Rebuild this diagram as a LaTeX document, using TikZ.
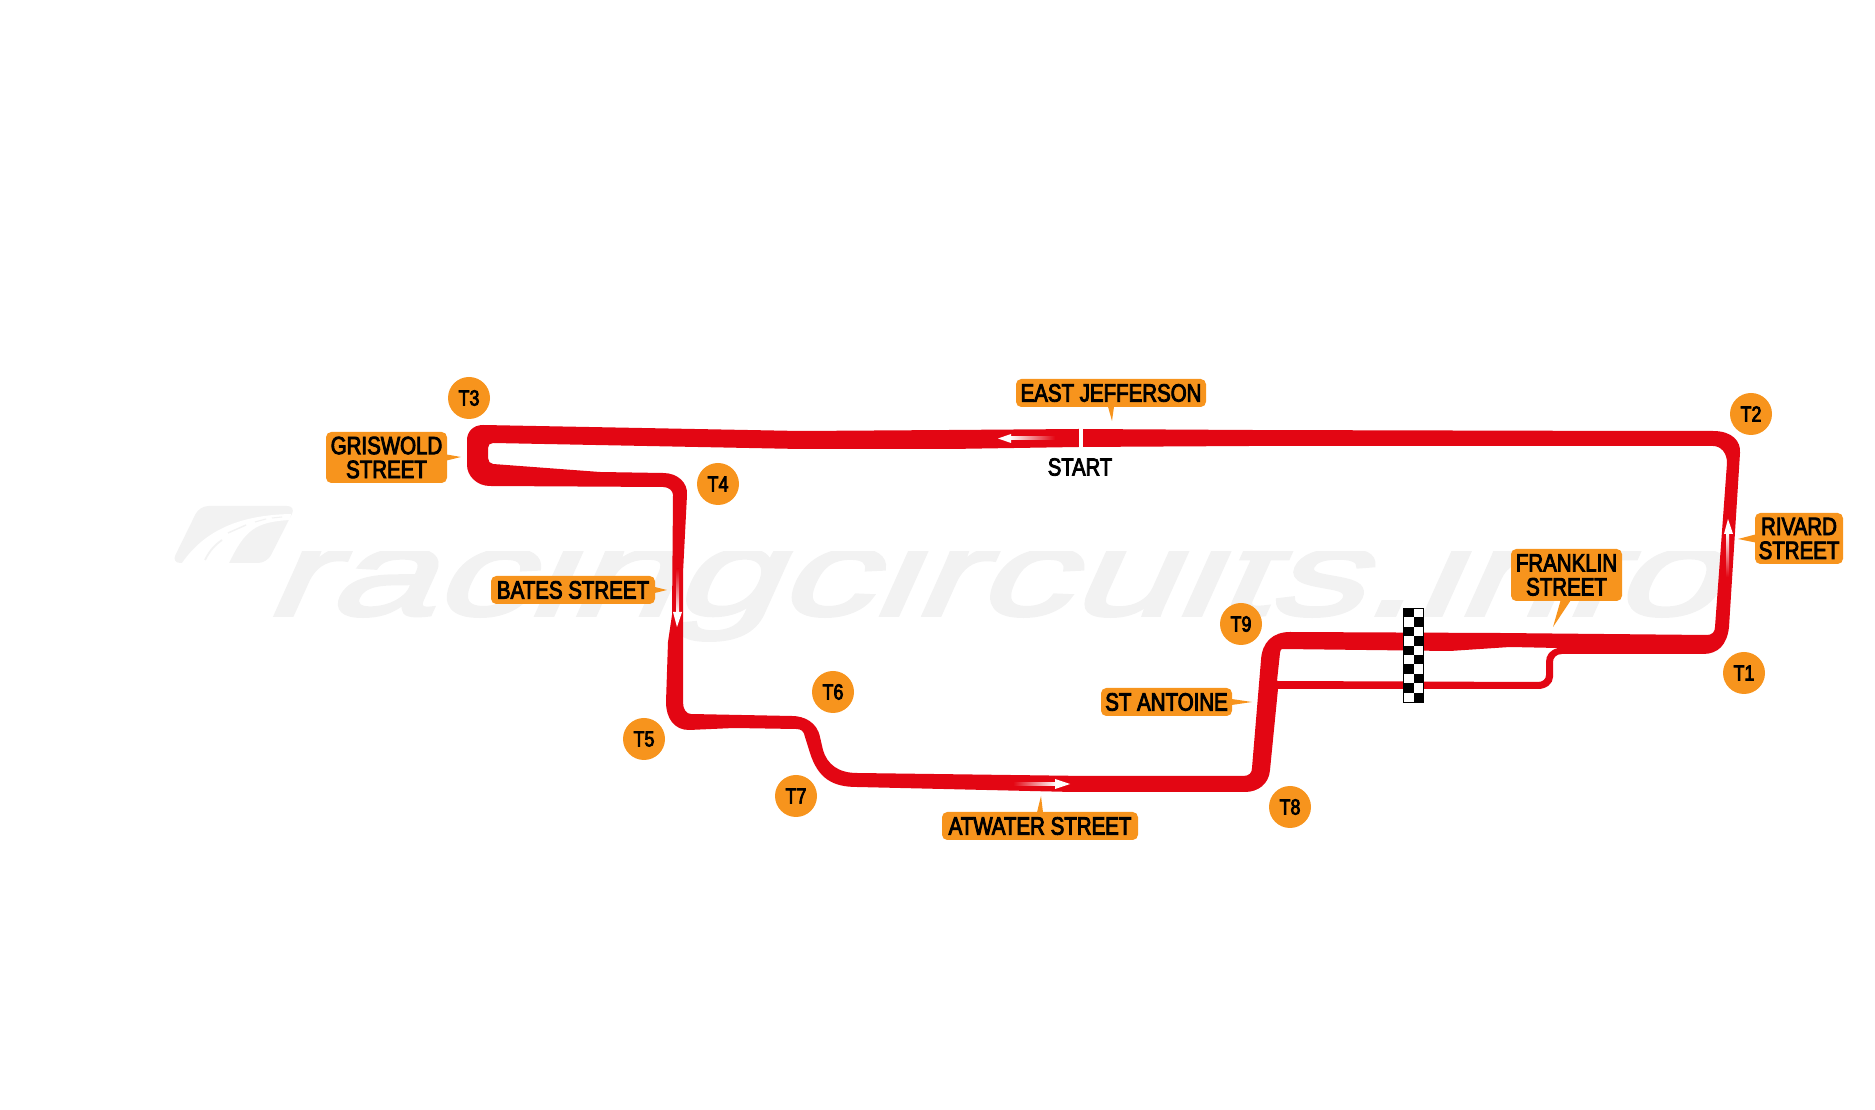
\documentclass[tikz,border=0pt]{standalone}
\usepackage{fontspec}
\usetikzlibrary{calc}
\setmainfont{Liberation Sans}
\newfontfamily\tagfont[FakeStretch=0.82,FakeBold=3.5]{Liberation Sans}
\newfontfamily\brandfont[FakeStretch=1.55,FakeSlant=0.45,FakeBold=3]{Liberation Sans}
\definecolor{trackred}{HTML}{E30613}
\definecolor{tagorange}{HTML}{F7941D}
\definecolor{brandgrey}{HTML}{F2F2F2}
\begin{document}
\begin{tikzpicture}[
    x=0.01cm, y=-0.01cm,
    streettag/.style={rectangle, fill=tagorange, rounded corners=1.5pt, inner sep=0pt, align=center, font=\tagfont\fontsize{7.1}{6.8}\selectfont},
    turnmark/.style={circle, fill=tagorange, minimum size=42*0.01cm, inner sep=0pt, font=\tagfont\fontsize{6.2}{6.2}\selectfont},
    tagtip/.style={fill=tagorange},
    flowhead/.style={fill=white}
]
\useasboundingbox (0,0) rectangle (1875,1110);

% Watermark
\begin{scope}
\clip (200,552) rectangle (1760,645);
\node[text=brandgrey, anchor=base west, inner sep=0pt, font=\brandfont\fontsize{34.5}{34.5}\selectfont] (brand) at (262,615) {racingcircuits.info};
\end{scope}
\fill[brandgrey, rounded corners=2.5pt] (199.5,506) -- (296,506) -- (267,563) -- (171.5,563) -- cycle;
\fill[white] (182,563) .. controls (205,530) and (240,515) .. (291,514) -- (290,520) .. controls (255,522) and (245,530) .. (229,563) -- cycle;
\draw[brandgrey, line width=0.5pt] (205,560) .. controls (210,550) and (215,545) .. (222,540);
\draw[brandgrey, line width=0.4pt] (228,533) -- (246,525);
\draw[brandgrey, line width=0.3pt] (255,522) -- (266,519);
\draw[brandgrey, line width=0.3pt] (272,518) -- (282,517);

% Circuit outline, big hole and St Antoine hole
\fill[trackred, even odd rule]
  (483,425) -- (800,431) -- (950,430) -- (1079,429) -- (1250,430) -- (1650,431) -- (1713,431)
  .. controls (1732,431) and (1741,441) .. (1740,453) -- (1729,627)
  .. controls (1727,645) and (1718,654) .. (1703,654) -- (1562,654)
  .. controls (1556,654) and (1553,658) .. (1553,662) -- (1553,677)
  .. controls (1553,684) and (1546,689) .. (1538,689) -- (1278,689) -- (1270,770)
  .. controls (1269,784) and (1258,792) .. (1245,792) -- (1073,792) -- (857,787)
  .. controls (832,787) and (818,778) .. (810,753) -- (805,737)
  .. controls (804,731) and (801,729) .. (796,729) -- (734,728) -- (689,730)
  .. controls (674,730) and (666,718) .. (666,702) -- (668,642) -- (672,615) -- (673,495)
  .. controls (673,491) and (669,487) .. (663,487) -- (490,486)
  .. controls (477,486) and (467,476) .. (467,465) -- (467,440)
  .. controls (467,432) and (473,425) .. (483,425) -- cycle
  (800,449) -- (493,443) .. controls (490,443) and (488,445) .. (488,448) -- (488,458)
  .. controls (488,461) and (490,464) .. (493,464) -- (600,472) -- (663,473)
  .. controls (678,473) and (688,483) .. (687,495) -- (683,573) -- (683,702)
  .. controls (683,709) and (686,714) .. (691,714) -- (792,716)
  .. controls (804,716) and (817,722) .. (820,737) -- (823,750)
  .. controls (827,764) and (838,773) .. (857,773) -- (1087,776) -- (1243,776)
  .. controls (1249,776) and (1252,773) .. (1252,768) -- (1261,660)
  .. controls (1262,642) and (1273,632) .. (1290,632) -- (1500,633) -- (1707,635)
  .. controls (1712,635) and (1715,632) .. (1715,627) -- (1727,463)
  .. controls (1727,453) and (1721,446) .. (1713,446) -- (1250,446) -- (1079,447) -- (950,449) -- cycle
  (1282,649) -- (1450,651) -- (1510,647) -- (1558,648)
  .. controls (1550,650) and (1546,655) .. (1546,662) -- (1546,675)
  .. controls (1546,679) and (1543,682) .. (1538,682) -- (1277,681) -- (1280,653)
  .. controls (1280,651) and (1281,649) .. (1282,649) -- cycle;

% Start gap
\fill[white] (1079,427) rectangle (1083,449);
\node[font=\tagfont\fontsize{7}{7}\selectfont, inner sep=0pt] (start) at (1080,467) {START};

% Direction arrows
\shade[left color=white, right color=trackred] (1010,437) rectangle (1055,440);
\fill[flowhead] (998,438.5) -- (1011,434) -- (1011,443) -- cycle;
\shade[top color=trackred, bottom color=white] (676.5,569) rectangle (679,613);
\fill[flowhead] (677,627) -- (673,612) -- (682,612) -- cycle;
\shade[left color=trackred, right color=white] (1013,782.5) rectangle (1056,785.5);
\fill[flowhead] (1070,784) -- (1055,779) -- (1055,789) -- cycle;
\shade[top color=white, bottom color=trackred] (1726,533) rectangle (1729,577);
\fill[flowhead] (1728,519) -- (1724,534) -- (1733,534) -- cycle;

% Chequered flag
\fill[white] (1403.5,608) rectangle (1423.5,702);
\foreach \row in {0,2,4,6,8} {
    \fill[black] (1403.5,{608+9.4*\row}) rectangle +(10,9.4);
    \fill[black] (1413.5,{608+9.4*(\row+1)}) rectangle +(10,9.4);
}
\draw[black, line width=0.25pt] (1403.5,608) rectangle (1423.5,702);

% Street tags
\node[streettag, minimum width=190*0.01cm, minimum height=28*0.01cm] (jefferson) at (1111,393) {EAST JEFFERSON};
\node[streettag, minimum width=121*0.01cm, minimum height=51*0.01cm] (griswold) at (386.5,457.5) {GRISWOLD\\STREET};
\node[streettag, minimum width=164*0.01cm, minimum height=28*0.01cm] (bates) at (573,590) {BATES STREET};
\node[streettag, minimum width=131*0.01cm, minimum height=28*0.01cm] (antoine) at (1166.5,702) {ST ANTOINE};
\node[streettag, minimum width=196*0.01cm, minimum height=28*0.01cm] (atwater) at (1040,826) {ATWATER STREET};
\node[streettag, minimum width=111*0.01cm, minimum height=52*0.01cm] (franklin) at (1566.5,575) {FRANKLIN\\STREET};
\node[streettag, minimum width=88*0.01cm, minimum height=51*0.01cm] (rivard) at (1799,538.5) {RIVARD\\STREET};

% Tag pointers
\coordinate (jeffersontip) at (1112,421);
\coordinate (griswoldtip) at (461,457);
\coordinate (batestip) at (667,590);
\coordinate (antoinetip) at (1252,702);
\coordinate (atwatertip) at (1041,796);
\coordinate (franklintip) at (1553,627);
\coordinate (rivardtip) at (1738,539);
\fill[tagtip] ($(jefferson.south)+(-3,-1)$) -- (jeffersontip) -- ($(jefferson.south)+(3,-1)$) -- cycle;
\fill[tagtip] ($(griswold.east)+(-1,-3)$) -- (griswoldtip) -- ($(griswold.east)+(-1,3)$) -- cycle;
\fill[tagtip] ($(bates.east)+(-1,-3)$) -- (batestip) -- ($(bates.east)+(-1,3)$) -- cycle;
\fill[tagtip] ($(antoine.east)+(-1,-3)$) -- (antoinetip) -- ($(antoine.east)+(-1,3)$) -- cycle;
\fill[tagtip] ($(atwater.north)+(-3,1)$) -- (atwatertip) -- ($(atwater.north)+(3,1)$) -- cycle;
\fill[tagtip] ($(franklin.south)+(-6,-1)$) -- (franklintip) -- ($(franklin.south)+(4,-1)$) -- cycle;
\fill[tagtip] ($(rivard.west)+(1,-4)$) -- (rivardtip) -- ($(rivard.west)+(1,4)$) -- cycle;

% Turn markers
\node[turnmark] (t1) at (1744,673) {T1};
\node[turnmark] (t2) at (1751,414) {T2};
\node[turnmark] (t3) at (469,398) {T3};
\node[turnmark] (t4) at (718,484) {T4};
\node[turnmark] (t5) at (644,739) {T5};
\node[turnmark] (t6) at (833,692) {T6};
\node[turnmark] (t7) at (796,796) {T7};
\node[turnmark] (t8) at (1290,807) {T8};
\node[turnmark] (t9) at (1241,624) {T9};

\end{tikzpicture}
\end{document}
